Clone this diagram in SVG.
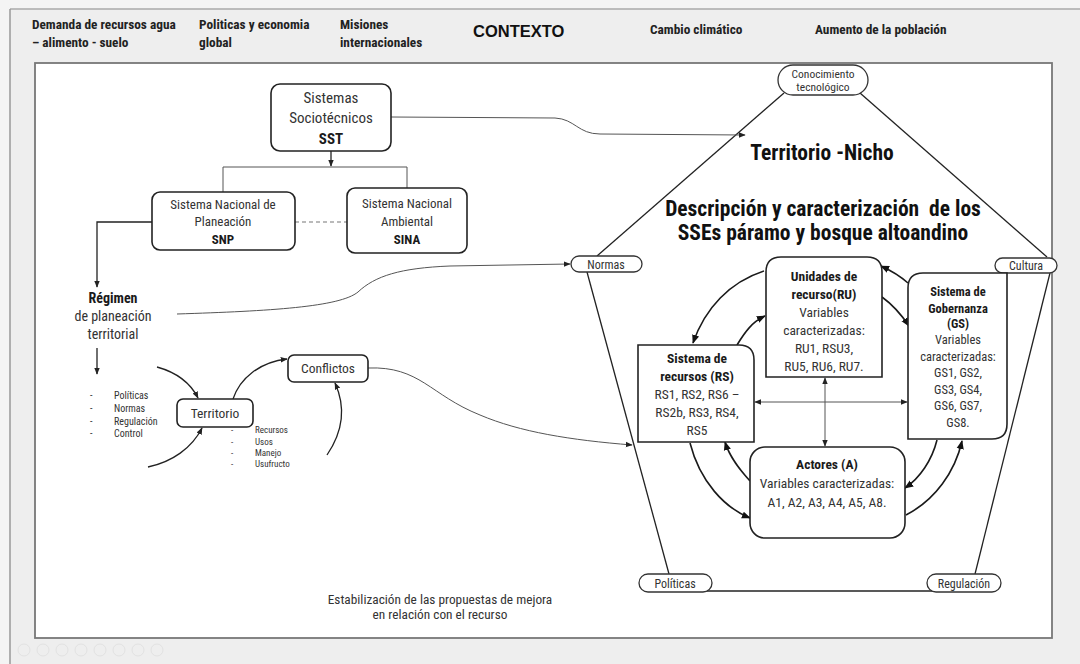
<svg xmlns="http://www.w3.org/2000/svg" width="1080" height="664" viewBox="0 0 1080 664">
<defs>
<style>
.n{font-family:"Liberation Sans Narrow","Roboto Condensed","Liberation Sans",sans-serif;fill:#333}
.b{font-weight:bold;fill:#1a1a1a}
.hd{font-family:"Liberation Sans Narrow","Roboto Condensed","Liberation Sans",sans-serif;font-weight:bold;font-size:13.3px;fill:#222}
.big{font-family:"Liberation Sans Narrow","Roboto Condensed","Liberation Sans",sans-serif;font-weight:bold;fill:#111}
.box{fill:#fff;stroke:#222;stroke-width:1.6}
.pill{fill:#fff;stroke:#333;stroke-width:1.3}
.ln{fill:none;stroke:#222;stroke-width:1.3}
.thin{fill:none;stroke:#555;stroke-width:1}
.arc{fill:none;stroke:#1a1a1a;stroke-width:1.6}
</style>
<marker id="ah" viewBox="0 0 10 10" refX="9" refY="5" markerWidth="9" markerHeight="9" markerUnits="userSpaceOnUse" orient="auto-start-reverse">
<path d="M0,1 L10,5 L0,9 Z" fill="#111"/>
</marker>
<marker id="as" viewBox="0 0 10 10" refX="9" refY="5" markerWidth="7" markerHeight="7" markerUnits="userSpaceOnUse" orient="auto-start-reverse">
<path d="M0,1 L10,5 L0,9 Z" fill="#222"/>
</marker>
</defs>

<rect x="0" y="0" width="1080" height="664" fill="#f4f4f4"/>
<rect x="10" y="9" width="1070" height="655" fill="#eeeeee"/>
<line x1="10" y1="9" x2="1080" y2="9" stroke="#aaa" stroke-width="1.5"/>
<line x1="10" y1="9" x2="10" y2="664" stroke="#999" stroke-width="1.5"/>
<rect x="35" y="63" width="1017" height="575" fill="#fff" stroke="#777" stroke-width="1.8"/>

<g id="toolbar" fill="none" stroke="#e2e2e2" stroke-width="1">
<circle cx="24" cy="650" r="6"/><circle cx="43" cy="650" r="6"/><circle cx="62" cy="650" r="6"/><circle cx="81" cy="650" r="6"/><circle cx="100" cy="650" r="6"/><circle cx="119" cy="650" r="6"/><circle cx="138" cy="650" r="6"/><circle cx="157" cy="650" r="6"/>
</g>

<g id="header">
<text class="hd" x="32" y="29">Demanda de recursos agua</text>
<text class="hd" x="32" y="47">– alimento - suelo</text>
<text class="hd" x="199" y="29">Politicas y economia</text>
<text class="hd" x="199" y="47">global</text>
<text class="hd" x="340" y="29">Misiones</text>
<text class="hd" x="340" y="47">internacionales</text>
<text x="473" y="37" style="font-family:'Liberation Sans',Arial,sans-serif;font-weight:bold;font-size:16.5px;fill:#111">CONTEXTO</text>
<text class="hd" x="650" y="34">Cambio climático</text>
<text class="hd" x="815" y="34">Aumento de la población</text>
</g>

<g id="pentagon" fill="none" stroke="#222" stroke-width="1.3">
<line x1="784" y1="93" x2="597" y2="256"/>
<line x1="860" y1="93" x2="1047" y2="257"/>
<line x1="587" y1="272" x2="669" y2="574"/>
<line x1="1050" y1="273" x2="975" y2="574"/>
<line x1="700" y1="591" x2="940" y2="591"/>
</g>

<g id="connectors">
<line class="ln" x1="331" y1="151" x2="331" y2="166" marker-end="url(#as)"/>
<path class="thin" d="M223,192 V167 H407 V188"/>
<line x1="295" y1="222" x2="347" y2="222" stroke="#777" stroke-width="1.2" stroke-dasharray="4,3"/>
<path class="ln" d="M152,222 H97 V287" marker-end="url(#as)"/>
<line class="ln" x1="97" y1="348" x2="97" y2="374" marker-end="url(#as)"/>
<path class="thin" d="M391,117 L555,118 C575,119 578,134 600,134 L745,135" marker-end="url(#as)"/>
<path class="thin" d="M177,314 C270,311 340,307 358,292 C375,276 400,268 450,266 L570,264" marker-end="url(#as)"/>
<path class="thin" d="M368,368 C420,366 430,395 480,415 C520,432 570,440 632,445" marker-end="url(#as)"/>
<path class="ln" d="M157,367 C175,372 190,382 198,398" marker-end="url(#as)"/>
<path class="ln" d="M148,467 C172,462 192,448 202,428" marker-end="url(#as)"/>
<path class="ln" d="M233,399 C240,378 260,362 287,359" marker-end="url(#as)"/>
<path class="ln" d="M327,455 C344,430 345,405 335,383" marker-end="url(#as)"/>
<line class="thin" x1="825" y1="378" x2="825" y2="446" marker-start="url(#as)" marker-end="url(#as)"/>
<line class="thin" x1="755" y1="402" x2="907" y2="402" marker-start="url(#as)" marker-end="url(#as)"/>
<path class="arc" d="M764,271 C730,282 705,308 693,343" marker-end="url(#ah)"/>
<path class="arc" d="M737,345 C745,332 752,322 765,316" marker-end="url(#ah)"/>
<path class="arc" d="M908,283 C900,276 892,271 881,266" marker-end="url(#ah)"/>
<path class="arc" d="M882,297 C893,305 901,314 909,326" marker-end="url(#ah)"/>
<path class="arc" d="M937,440 C932,460 920,478 905,488" marker-end="url(#ah)"/>
<path class="arc" d="M906,515 C935,500 955,472 962,441" marker-end="url(#ah)"/>
<path class="arc" d="M750,481 C740,470 730,458 725,442" marker-end="url(#ah)"/>
<path class="arc" d="M690,443 C700,482 725,508 750,518" marker-end="url(#ah)"/>
</g>

<g id="sst">
<rect class="box" x="271" y="84" width="120" height="67" rx="9"/>
<text class="n" x="331" y="103" font-size="15" text-anchor="middle">Sistemas</text>
<text class="n" x="331" y="123" font-size="15" text-anchor="middle">Sociotécnicos</text>
<text class="n b" x="331" y="144" font-size="15" text-anchor="middle">SST</text>
</g>
<g id="snp">
<rect class="box" x="152" y="192" width="143" height="58" rx="8" stroke="#333" stroke-width="1.3"/>
<text class="n" x="223" y="209" font-size="13" text-anchor="middle">Sistema Nacional de</text>
<text class="n" x="223" y="226" font-size="13" text-anchor="middle">Planeación</text>
<text class="n b" x="223" y="244" font-size="13" text-anchor="middle">SNP</text>
</g>
<g id="sina">
<rect class="box" x="347" y="188" width="120" height="65" rx="8" stroke="#333" stroke-width="1.3"/>
<text class="n" x="407" y="208" font-size="13" text-anchor="middle">Sistema Nacional</text>
<text class="n" x="407" y="226" font-size="13" text-anchor="middle">Ambiental</text>
<text class="n b" x="407" y="244" font-size="13" text-anchor="middle">SINA</text>
</g>
<g id="regimen">
<text class="n b" x="113" y="303" font-size="14" text-anchor="middle">Régimen</text>
<text class="n" x="113" y="321" font-size="14" text-anchor="middle">de planeación</text>
<text class="n" x="113" y="339" font-size="14" text-anchor="middle">territorial</text>
</g>
<g id="lista1" class="n" font-size="10">
<text x="90" y="399">-</text><text x="114" y="399">Políticas</text>
<text x="90" y="412">-</text><text x="114" y="412">Normas</text>
<text x="90" y="425">-</text><text x="114" y="425">Regulación</text>
<text x="90" y="437">-</text><text x="114" y="437">Control</text>
</g>
<g id="territorio">
<rect class="box" x="177" y="399" width="76" height="28" rx="6" stroke="#333" stroke-width="1.3"/>
<text class="n" x="215" y="418" font-size="13.5" text-anchor="middle">Territorio</text>
</g>
<g id="lista2" class="n" font-size="9">
<text x="231" y="433">-</text><text x="255" y="433">Recursos</text>
<text x="231" y="445">-</text><text x="255" y="445">Usos</text>
<text x="231" y="456">-</text><text x="255" y="456">Manejo</text>
<text x="231" y="467">-</text><text x="255" y="467">Usufructo</text>
</g>
<g id="conflictos">
<rect class="box" x="288" y="355" width="80" height="27" rx="6" stroke="#333" stroke-width="1.3"/>
<text class="n" x="328" y="373" font-size="13.5" text-anchor="middle">Conflictos</text>
</g>

<g id="conocimiento">
<rect class="pill" x="778" y="65" width="90" height="30" rx="15"/>
<text class="n" x="823" y="78" font-size="11.5" text-anchor="middle" fill="#555">Conocimiento</text>
<text class="n" x="823" y="91" font-size="11.5" text-anchor="middle" fill="#555">tecnológico</text>
</g>
<g id="normas">
<rect class="pill" x="571" y="256" width="71" height="16" rx="8"/>
<text class="n" x="606" y="268.5" font-size="12" text-anchor="middle" fill="#555">Normas</text>
</g>
<g id="cultura">
<rect class="pill" x="995" y="258" width="62" height="15" rx="7.5"/>
<text class="n" x="1026" y="270" font-size="12" text-anchor="middle" fill="#555">Cultura</text>
</g>
<g id="politicas">
<rect class="pill" x="639" y="574" width="73" height="18" rx="9"/>
<text class="n" x="675" y="587.5" font-size="12" text-anchor="middle" fill="#555">Políticas</text>
</g>
<g id="regulacion">
<rect class="pill" x="927" y="574" width="74" height="18" rx="9"/>
<text class="n" x="964" y="587.5" font-size="12" text-anchor="middle" fill="#555">Regulación</text>
</g>

<g id="titulo">
<text class="big" x="822" y="160" font-size="21.5" text-anchor="middle">Territorio -Nicho</text>
<text class="big" x="823" y="216" font-size="21.5" text-anchor="middle" xml:space="preserve">Descripción y caracterización  de los</text>
<text class="big" x="823" y="240" font-size="21.5" text-anchor="middle">SSEs páramo y bosque altoandino</text>
</g>

<g id="ru">
<path class="box" d="M766,377 V272 Q766,257 781,257 H867 Q882,257 882,272 V377 Z"/>
<text class="n b" x="824" y="281" font-size="13.5" text-anchor="middle">Unidades de</text>
<text class="n b" x="824" y="299" font-size="13.5" text-anchor="middle">recurso(RU)</text>
<text class="n" x="824" y="317" font-size="13.5" text-anchor="middle">Variables</text>
<text class="n" x="824" y="335" font-size="13.5" text-anchor="middle">caracterizadas:</text>
<text class="n" x="824" y="353" font-size="13.5" text-anchor="middle">RU1, RSU3,</text>
<text class="n" x="824" y="371" font-size="13.5" text-anchor="middle">RU5, RU6, RU7.</text>
</g>
<g id="rs">
<path class="box" d="M638,345 H739 Q754,345 754,360 V442 H638 Z"/>
<text class="n b" x="697" y="363" font-size="13.5" text-anchor="middle">Sistema de</text>
<text class="n b" x="697" y="381" font-size="13.5" text-anchor="middle">recursos (RS)</text>
<text class="n" x="697" y="399" font-size="13.5" text-anchor="middle">RS1, RS2, RS6 –</text>
<text class="n" x="697" y="417" font-size="13.5" text-anchor="middle">RS2b, RS3, RS4,</text>
<text class="n" x="697" y="435" font-size="13.5" text-anchor="middle">RS5</text>
</g>
<g id="gs">
<path class="box" d="M908,288 Q908,273 923,273 H1007 V424 Q1007,439 992,439 H908 Z"/>
<text class="n b" x="958" y="296" font-size="12.5" text-anchor="middle">Sistema de</text>
<text class="n b" x="958" y="313" font-size="12.5" text-anchor="middle">Gobernanza</text>
<text class="n b" x="958" y="328" font-size="12.5" text-anchor="middle">(GS)</text>
<text class="n" x="958" y="344" font-size="12.5" text-anchor="middle">Variables</text>
<text class="n" x="958" y="361" font-size="12.5" text-anchor="middle">caracterizadas:</text>
<text class="n" x="958" y="377" font-size="12.5" text-anchor="middle">GS1, GS2,</text>
<text class="n" x="958" y="394" font-size="12.5" text-anchor="middle">GS3, GS4,</text>
<text class="n" x="958" y="410" font-size="12.5" text-anchor="middle">GS6, GS7,</text>
<text class="n" x="958" y="427" font-size="12.5" text-anchor="middle">GS8.</text>
</g>
<g id="actores">
<rect class="box" x="750" y="447" width="155" height="91" rx="15"/>
<text class="n b" x="827" y="469" font-size="13.5" text-anchor="middle">Actores (A)</text>
<text class="n" x="827" y="488" font-size="13.5" text-anchor="middle">Variables caracterizadas:</text>
<text class="n" x="827" y="507" font-size="13.5" text-anchor="middle">A1, A2, A3, A4, A5, A8.</text>
</g>

<g id="estabilizacion">
<text class="n" x="440" y="604" font-size="13.3" text-anchor="middle">Estabilización de las propuestas de mejora</text>
<text class="n" x="440" y="619" font-size="13.3" text-anchor="middle">en relación con el recurso</text>
</g>
</svg>
